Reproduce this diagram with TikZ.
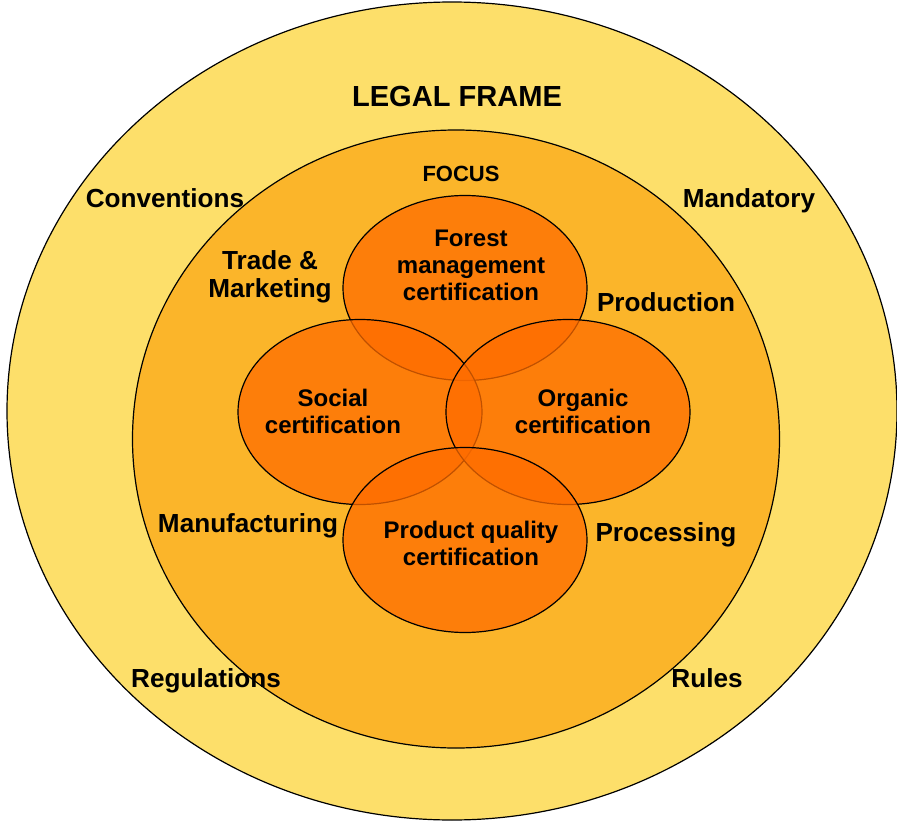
\documentclass[tikz,border=0pt]{standalone}
\usepackage{fontspec}
\setmainfont{Liberation Sans}
\usetikzlibrary{shapes}
\definecolor{frameyellow}{RGB}{253,223,106}
\definecolor{focusorange}{RGB}{251,181,42}
\definecolor{certorange}{RGB}{255,108,0}
\tikzstyle{ring}=[ellipse,draw=black,line width=0.9pt,inner sep=0pt]
\tikzstyle{cert}=[ring,fill=certorange,fill opacity=0.75,minimum width=183pt,minimum height=138.75pt]
\tikzstyle{ringtext}=[inner sep=0pt,align=center,font=\bfseries\fontsize{19.6}{21}\selectfont]
\tikzstyle{certtext}=[inner sep=0pt,align=center,font=\bfseries\fontsize{18}{20.25}\selectfont]

\begin{document}
\begin{tikzpicture}[x=0.75pt,y=-0.75pt]
    \useasboundingbox (0,0) rectangle (897,821);
    % The legal frame and the focus ring
    \node[ring,fill=frameyellow,minimum width=667.5pt,minimum height=613.5pt] (legal) at (452,411) {};
    \node[ring,fill=focusorange,minimum width=485.25pt,minimum height=463.5pt] (focus) at (456,439) {};

    % The four certification ellipses, drawn in this order
    \foreach \pos/\name in {{(465,288)/forest}, {(360,412)/social}, {(568,412)/organic}, {(465,540)/quality}}
        \node[cert] (\name) at \pos {};

    % Titles of the two rings
    \node[ringtext,font=\bfseries\fontsize{21.8}{24}\selectfont] (legaltitle) at (457,96) {LEGAL FRAME};
    \node[ringtext,font=\bfseries\fontsize{16.5}{18}\selectfont] (focustitle) at (461,174) {FOCUS};

    % Words in the rings
    \foreach \pos/\name/\words in {{(165,198)/conventions/Conventions}, {(749,201)/mandatory/Mandatory},
        {(206,681)/regulations/Regulations}, {(707,678)/rules/Rules},
        {(270,277)/trade/{Trade \&\\Marketing}}, {(666,302)/production/Production},
        {(248,526)/manufacturing/Manufacturing}, {(666,535)/processing/Processing}}
        \node[ringtext] (\name text) at \pos {\words};

    % Words in the certification ellipses
    \foreach \pos/\name/\words in {{(471,265)/forest/{Forest\\management\\certification}},
        {(333,411)/social/{Social\\certification}}, {(583,411)/organic/{Organic\\certification}},
        {(471,543)/quality/{Product quality\\certification}}}
        \node[certtext] (\name text) at \pos {\words};
\end{tikzpicture}
\end{document}
